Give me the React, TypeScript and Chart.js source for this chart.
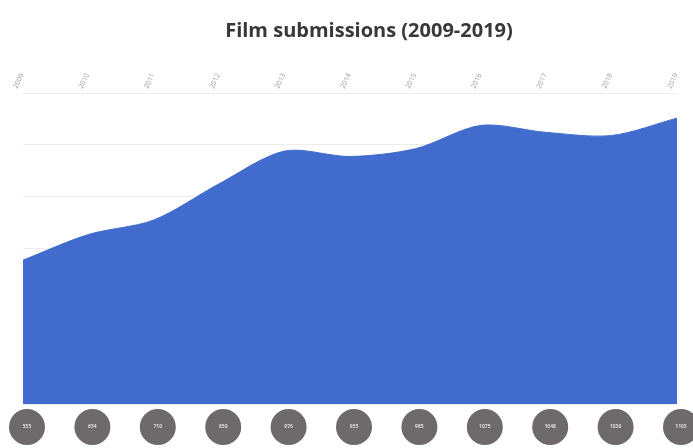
import React, { useEffect, useRef } from "react";
import { Chart, registerables } from "chart.js";

Chart.register(...registerables);

const years = ["2009", "2010", "2011", "2012", "2013", "2014", "2015", "2016", "2017", "2018", "2019"];
const submissions = [555, 654, 710, 850, 976, 955, 985, 1075, 1048, 1036, 1103];
const bubbleLabels = ["555", "654", "710", "850", "976", "955", "985", "1075", "1048", "1036", "1103"];
const titleText = "Film submissions (2009-2019)";

const decorPlugin = {
  id: "decor",
  afterDraw(chart: any) {
    const ctx = chart.ctx;
    const xs = chart.scales.x;
    ctx.save();
    // title
    ctx.fillStyle = "#383838";
    ctx.font = "bold 20px 'Open Sans'";
    ctx.textAlign = "center";
    ctx.textBaseline = "middle";
    ctx.fillText(titleText, 369, 31);
    // bubbles
    bubbleLabels.forEach((lab, i) => {
      const x = xs.getPixelForValue(i) + 4;
      const y = 427;
      ctx.beginPath();
      ctx.ellipse(x, y, 18, 18, 0, 0, Math.PI * 2);
      ctx.fillStyle = "#6e6a6b";
      ctx.fill();
      ctx.fillStyle = "#dcdcdc";
      ctx.font = "bold 5px 'Open Sans'";
      ctx.fillText(lab, x, y);
    });
    ctx.restore();
  },
};

export default function App() {
  const ref = useRef<HTMLCanvasElement>(null);
  useEffect(() => {
    if (!ref.current) return;
    const chart = new Chart(ref.current, {
      type: "line",
      data: {
        labels: years,
        datasets: [
          {
            data: submissions,
            backgroundColor: "#416ccd",
            borderColor: "#416ccd",
            borderWidth: 1,
            fill: "origin",
            tension: 0.3,
            pointRadius: 0,
          },
        ],
      },
      options: {
        responsive: false,
        animation: false,
        layout: { padding: { left: 23, right: 16, top: 60, bottom: 44 } },
        plugins: { legend: { display: false }, tooltip: { enabled: false }, title: { display: false } },
        scales: {
          x: {
            position: "top",
            offset: false,
            grid: { display: false, drawTicks: false },
            border: { display: false },
            ticks: {
              font: { size: 7, family: "'Open Sans'" },
              color: "#9a9a9a",
              minRotation: 65,
              maxRotation: 65,
              padding: 3,
              autoSkip: false,
            },
            afterFit: (s: any) => { s.height = 33; },
          },
          y: {
            min: 0,
            max: 1200,
            ticks: { display: false, stepSize: 200 },
            grid: { color: "#ececec", drawTicks: false },
            border: { display: false },
            afterFit: (s: any) => { s.width = 0; },
          },
        },
      },
      plugins: [decorPlugin],
    });
    return () => chart.destroy();
  }, []);
  return (
    <div style={{ position: "fixed", left: 0, top: 0, width: 693, height: 448, background: "#fff" }}>
      <canvas ref={ref} width={693} height={448} />
    </div>
  );
}
